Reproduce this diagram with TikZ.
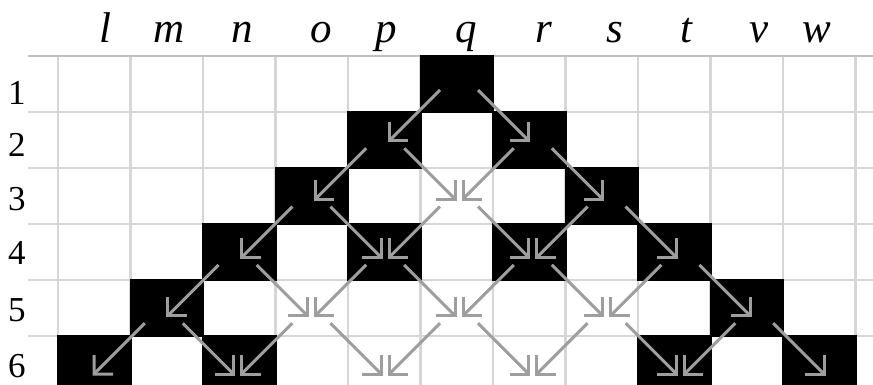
\documentclass[tikz,border=0pt]{standalone}
\usepackage{fontspec}
\setmainfont{Liberation Serif}
\usetikzlibrary{arrows.meta}
\definecolor{arrgray}{RGB}{158,158,158}
\definecolor{gridgray}{RGB}{214,214,214}
\definecolor{topgray}{RGB}{192,192,192}
\tikzset{
  gridline/.style={draw=gridgray, line width=2.5pt},
  topline/.style={draw=topgray, line width=2.5pt},
  blackcell/.style={fill=black},
  arr/.style={draw=arrgray, line width=3pt, -{Straight Barb[angle=90:19pt, line width=3pt]}},
  collab/.style={anchor=base, inner sep=0pt, font=\fontsize{43}{50}\selectfont\itshape},
  rowlab/.style={anchor=base, inner sep=0pt, font=\fontsize{35}{42}\selectfont},
}
\begin{document}
\begin{tikzpicture}[x=1pt,y=-1pt]
\useasboundingbox (0,0) rectangle (873,385);
\clip (0,0) rectangle (873,385);
\fill[white] (0,0) rectangle (873,385);
% grid
\foreach \i in {0,...,11} \draw[gridline] ({58+72.5*\i},56) -- ({58+72.5*\i},392);
\foreach \j in {1,...,5} \draw[gridline] (28,{56+56*\j}) -- (873,{56+56*\j});
\draw[topline] (28,56) -- (873,56);
% black cells (row, column)
\foreach \r/\c in {1/6, 2/5, 2/7, 3/4, 3/8, 4/3, 4/5, 4/7, 4/9, 5/2, 5/10, 6/1, 6/3, 6/9, 6/11}
  \fill[blackcell] ({58+72.5*(\c-1)-1},{56+56*(\r-1)-1}) rectangle +(74.5,58);
% column labels
\foreach \t/\x in {l/105, m/169, n/242, o/321, p/386, q/466, r/544, s/615, t/686, v/759, w/817}
  \node[collab] (lab-\t) at (\x,43) {\t};
% row labels
\foreach \r/\y in {1/105, 2/157, 3/210, 4/264, 5/321, 6/377}
  \node[rowlab] (row-\r) at (17,\y) {\r};
% arrow anchor points
\foreach \r in {1,...,6} {
  \pgfmathtruncatemacro\n{\r-1}
  \foreach \i in {0,...,\n} {
    \pgfmathtruncatemacro\c{6-\n+2*\i}
    \coordinate (P-\r-\c) at ({459+73.8*(\c-6)},{84+58.3*(\r-1)});
    \coordinate (tl-\r-\c) at ({459+73.8*(\c-6)-19},{84+58.3*(\r-1)+6});
    \coordinate (tr-\r-\c) at ({459+73.8*(\c-6)+19},{84+58.3*(\r-1)+6});
    \coordinate (il-\r-\c) at ({459+73.8*(\c-6)-2.5},{84+58.3*(\r-1)});
    \coordinate (ir-\r-\c) at ({459+73.8*(\c-6)+2.5},{84+58.3*(\r-1)});
  }
}
% arrows
\foreach \r in {1,...,5} {
  \pgfmathtruncatemacro\n{\r-1}
  \pgfmathtruncatemacro\rr{\r+1}
  \foreach \i in {0,...,\n} {
    \pgfmathtruncatemacro\c{6-\n+2*\i}
    \pgfmathtruncatemacro\cl{\c-1}
    \pgfmathtruncatemacro\cr{\c+1}
    \draw[arr] (tl-\r-\c) -- (ir-\rr-\cl);
    \draw[arr] (tr-\r-\c) -- (il-\rr-\cr);
  }
}
\end{tikzpicture}
\end{document}
